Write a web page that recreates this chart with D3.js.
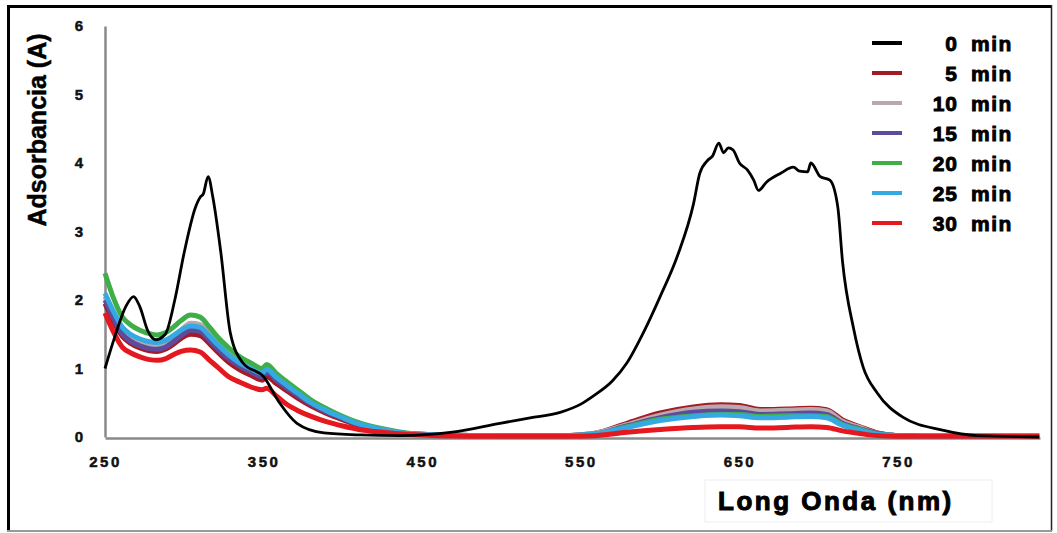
<!DOCTYPE html>
<html>
<head>
<meta charset="utf-8">
<script src="https://cdn.jsdelivr.net/npm/d3@7"></script>
<style>
  body { margin: 0; background: #fff; }
  text { font-family: "Liberation Sans", Arial, sans-serif; font-weight: bold; }
</style>
</head>
<body>
<div id="chart"></div>
<script>
// 0 min spectrum (nm, A)
const wl0 = [250, 256, 263, 268, 272, 277, 282, 288, 294, 300, 307, 310, 312, 315, 318, 323, 329, 337, 350, 360, 371, 388, 411, 436, 469, 499, 518, 537, 550, 558, 570, 579, 590, 600, 611, 621, 625, 630, 633, 637, 640, 643, 646, 650, 655, 659, 662, 667, 676, 684, 688, 693, 695, 701, 707, 712, 715, 722, 728, 737, 753, 778, 800, 839];
const abs0 = [1.0, 1.45, 1.9, 2.05, 1.9, 1.55, 1.42, 1.5, 2.0, 2.7, 3.35, 3.5, 3.55, 3.8, 3.5, 2.7, 1.52, 1.08, 0.88, 0.5, 0.2, 0.06, 0.03, 0.02, 0.07, 0.2, 0.28, 0.36, 0.48, 0.6, 0.82, 1.08, 1.55, 2.05, 2.65, 3.4, 3.85, 4.04, 4.1, 4.29, 4.15, 4.22, 4.19, 4.0, 3.9, 3.75, 3.6, 3.72, 3.85, 3.94, 3.88, 3.87, 4.0, 3.8, 3.75, 3.36, 2.56, 1.58, 1.02, 0.64, 0.29, 0.1, 0.02, 0.0];

// later spectra share one wavelength grid
const wl = [250, 255, 261, 266, 272, 278, 283, 288, 293, 298, 304, 310, 316, 321, 328, 335, 342, 349, 352, 358, 365, 372, 380, 390, 400, 410, 425, 440, 460, 500, 540, 558, 579, 600, 621, 638, 650, 663, 680, 695, 705, 715, 726, 737, 750, 780, 839];
const abs5 = [1.95, 1.7, 1.47, 1.37, 1.3, 1.26, 1.25, 1.28, 1.35, 1.44, 1.5, 1.48, 1.36, 1.24, 1.09, 0.98, 0.9, 0.83, 0.88, 0.78, 0.67, 0.56, 0.45, 0.34, 0.25, 0.17, 0.1, 0.05, 0.03, 0.02, 0.02, 0.05, 0.2, 0.35, 0.44, 0.47, 0.46, 0.4, 0.41, 0.42, 0.4, 0.25, 0.15, 0.06, 0.02, 0.01, 0.01];
const abs10 = [2.05, 1.8, 1.56, 1.46, 1.39, 1.35, 1.34, 1.37, 1.45, 1.56, 1.66, 1.64, 1.5, 1.37, 1.21, 1.09, 1.0, 0.93, 0.99, 0.87, 0.75, 0.63, 0.5, 0.38, 0.28, 0.19, 0.11, 0.05, 0.03, 0.02, 0.02, 0.05, 0.18, 0.32, 0.41, 0.44, 0.43, 0.38, 0.39, 0.4, 0.38, 0.23, 0.14, 0.05, 0.02, 0.01, 0.01];
const abs15 = [2.0, 1.75, 1.5, 1.4, 1.33, 1.29, 1.28, 1.31, 1.39, 1.48, 1.56, 1.54, 1.41, 1.29, 1.14, 1.03, 0.95, 0.88, 0.94, 0.83, 0.71, 0.6, 0.48, 0.36, 0.27, 0.18, 0.1, 0.05, 0.03, 0.02, 0.02, 0.04, 0.16, 0.28, 0.36, 0.38, 0.37, 0.33, 0.34, 0.35, 0.33, 0.2, 0.12, 0.05, 0.02, 0.01, 0.01];
const abs20 = [2.39, 2.05, 1.75, 1.64, 1.56, 1.51, 1.49, 1.52, 1.6, 1.7, 1.78, 1.75, 1.6, 1.46, 1.3, 1.17, 1.08, 1.0, 1.06, 0.93, 0.8, 0.68, 0.54, 0.41, 0.3, 0.21, 0.12, 0.06, 0.03, 0.02, 0.02, 0.04, 0.15, 0.26, 0.31, 0.33, 0.33, 0.3, 0.31, 0.31, 0.3, 0.18, 0.11, 0.04, 0.02, 0.01, 0.01];
const abs25 = [2.1, 1.85, 1.6, 1.5, 1.43, 1.39, 1.38, 1.41, 1.48, 1.56, 1.62, 1.6, 1.47, 1.35, 1.2, 1.08, 1.0, 0.93, 0.99, 0.87, 0.75, 0.63, 0.5, 0.38, 0.28, 0.19, 0.11, 0.05, 0.03, 0.02, 0.02, 0.04, 0.14, 0.24, 0.3, 0.32, 0.31, 0.28, 0.29, 0.3, 0.28, 0.17, 0.1, 0.04, 0.02, 0.01, 0.01];
const abs30 = [1.81, 1.55, 1.31, 1.23, 1.17, 1.13, 1.12, 1.14, 1.2, 1.25, 1.27, 1.24, 1.12, 1.02, 0.88, 0.8, 0.73, 0.69, 0.71, 0.6, 0.47, 0.38, 0.3, 0.22, 0.16, 0.11, 0.07, 0.04, 0.02, 0.01, 0.01, 0.02, 0.07, 0.11, 0.14, 0.15, 0.15, 0.13, 0.14, 0.15, 0.14, 0.09, 0.05, 0.02, 0.01, 0.01, 0.01];

const seriesNames = ['0 min', '5 min', '10 min', '15 min', '20 min', '25 min', '30 min'];
const seriesColors = ['#000000', '#a31b26', '#b9a9ae', '#5f4b9c', '#3fae49', '#35a9e1', '#e4181e'];
const xTicks = [250, 350, 450, 550, 650, 750];
const yTicks = [0, 1, 2, 3, 4, 5, 6];

const w = 1057, h = 533;

const svg = d3.select('#chart').append('svg')
  .attr('width', w)
  .attr('height', h);

// frame
svg.append('line').attr('x1', 8.5).attr('x2', 8.5).attr('y1', 5).attr('y2', 531)
  .attr('stroke', '#000').attr('stroke-width', 3);
svg.append('line').attr('x1', 7).attr('x2', 1052).attr('y1', 6.5).attr('y2', 6.5)
  .attr('stroke', '#000').attr('stroke-width', 3);
svg.append('line').attr('x1', 1051.5).attr('x2', 1051.5).attr('y1', 5).attr('y2', 531)
  .attr('stroke', '#222').attr('stroke-width', 1.5);
svg.append('line').attr('x1', 7).attr('x2', 1052).attr('y1', 531).attr('y2', 531)
  .attr('stroke', '#999').attr('stroke-width', 2);

const xScale = d3.scaleLinear().domain([250, 839.5]).range([105, 1040]);
const yScale = d3.scaleLinear().domain([0, 6]).range([437, 26]);

// axes
const xAxis = d3.axisBottom(xScale).tickValues(xTicks).tickSize(0).tickPadding(18);
const yAxis = d3.axisLeft(yScale).tickValues(yTicks).tickFormat(d3.format('d')).tickSize(0).tickPadding(22);

const gx = svg.append('g').attr('transform', 'translate(0,' + 438 + ')').call(xAxis);
gx.select('.domain').attr('stroke', '#8a8a8a').attr('stroke-width', 2.5);
gx.selectAll('text').attr('font-size', 15).attr('letter-spacing', 2.5).attr('fill', '#111')
  .attr('stroke', '#111').attr('stroke-width', 0.5)
  .attr('font-family', '"Liberation Sans", Arial, sans-serif');

const gy = svg.append('g').attr('transform', 'translate(' + 105 + ',0)').call(yAxis);
gy.select('.domain').attr('stroke', '#8a8a8a').attr('stroke-width', 2.5);
gy.selectAll('text').attr('font-size', 15).attr('fill', '#111')
  .attr('stroke', '#111').attr('stroke-width', 0.5)
  .attr('font-family', '"Liberation Sans", Arial, sans-serif');

// curves
const line = d3.line()
  .x((d) => xScale(d[0]))
  .y((d) => yScale(d[1]))
  .curve(d3.curveMonotoneX);

const later = [abs5, abs10, abs15, abs20, abs25, abs30];
later.forEach((vals, i) => {
  svg.append('path')
    .datum(wl.map((x, j) => [x, vals[j]]))
    .attr('fill', 'none')
    .attr('stroke', seriesColors[i + 1])
    .attr('stroke-width', 5)
    .attr('stroke-linejoin', 'round')
    .attr('d', line);
});

svg.append('path')
  .datum(wl0.map((x, j) => [x, abs0[j]]))
  .attr('fill', 'none')
  .attr('stroke', seriesColors[0])
  .attr('stroke-width', 2.8)
  .attr('stroke-linejoin', 'round')
  .attr('d', line);

// legend
const legend = svg.append('g');
seriesNames.forEach((name, i) => {
  const y = 43 + i * 30;
  legend.append('line')
    .attr('x1', 872).attr('x2', 902).attr('y1', y).attr('y2', y)
    .attr('stroke', seriesColors[i]).attr('stroke-width', 4);
  legend.append('text')
    .attr('x', 958).attr('y', y + 8)
    .attr('text-anchor', 'end')
    .attr('font-size', 21)
    .attr('letter-spacing', 1)
    .attr('stroke', '#000').attr('stroke-width', 0.9)
    .text(name.split(' ')[0]);
  legend.append('text')
    .attr('x', 971).attr('y', y + 8)
    .attr('font-size', 21)
    .attr('letter-spacing', 1.5)
    .attr('stroke', '#000').attr('stroke-width', 0.9)
    .text(name.split(' ')[1]);
});

// axis titles
svg.append('text')
  .attr('transform', 'translate(46,130) rotate(-90)')
  .attr('text-anchor', 'middle')
  .attr('font-size', 25)
  .attr('stroke', '#000').attr('stroke-width', 0.5)
  .text('Adsorbancia (A)');

svg.append('rect')
  .attr('x', 705).attr('y', 480).attr('width', 287).attr('height', 42)
  .attr('fill', 'none').attr('stroke', '#eee').attr('stroke-width', 1);
svg.append('text')
  .attr('x', 718).attr('y', 510)
  .attr('font-size', 26)
  .attr('letter-spacing', 2.5)
  .attr('stroke', '#000').attr('stroke-width', 1)
  .text('Long Onda (nm)');
</script>
</body>
</html>
